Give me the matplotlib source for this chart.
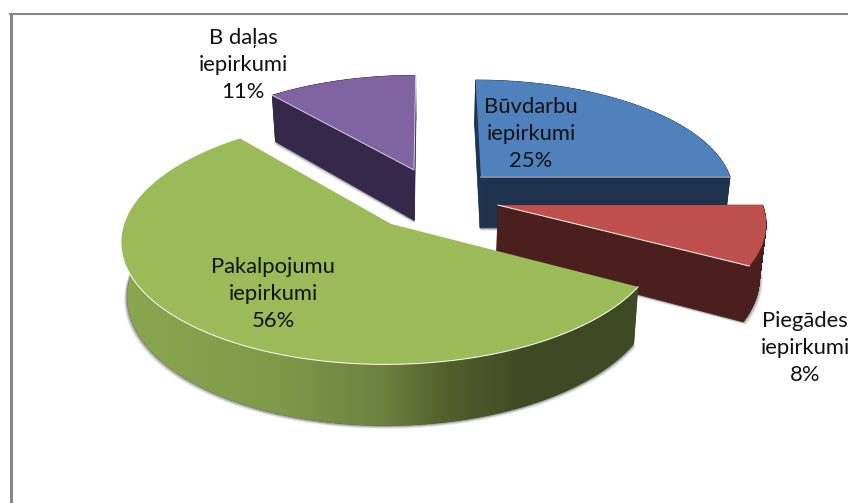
import numpy as np
import matplotlib
matplotlib.use('Agg')
import matplotlib.pyplot as plt
from matplotlib.colors import LinearSegmentedColormap

# chart values, clockwise from the top of the pie
categories = ['Būvdarbu\niepirkumi', 'Piegādes\niepirkumi', 'Pakalpojumu\niepirkumi', 'B daļas\niepirkumi']
shares = [25, 8, 56, 11]
percent_labels = ['25%', '8%', '56%', '11%']

# looks of each slice
top_colors = ['#4f81bd', '#c0504d', '#9bbb59', '#8064a2']
side_colors = ['#1f334e', '#4b1f1e', None, '#35284a']
edge_colors = ['#8a97a8', '#ffffff', '#ffffff', '#d8d0e4']
explode_x = [0.1986, 0.257, -0.144, -0.0628]
explode_y = [0.40, 0.1562, 0.0, 0.4626]
radius = [0.97, 1.0, 0.99, 0.96]
label_xy = [(531, 134), (805, 348), (273, 294), (243, 65)]
draw_order = [3, 0, 1, 2]

# perspective camera, in pixels of the 848x503 picture
X0, Y0 = 430, 224
RX, RY = 270, 123.7
K = 0.129
DEPTH = 53.5
BOTTOM_SHRINK = 0.98


def project(x, y, bottom=False):
    w = 1 + K * y
    px = RX * x / w
    py = Y0 - RY * y / w
    if bottom:
        px = px * BOTTOM_SHRINK
        py = py + DEPTH / w
    return X0 + px, py


def arc(i, start, stop):
    t = np.radians(np.linspace(start, stop, 160))
    return explode_x[i] + radius[i] * np.sin(t), explode_y[i] + radius[i] * np.cos(t)


plt.rcParams['font.family'] = ['Lato', 'DejaVu Sans']
fig = plt.figure(figsize=(8.48, 5.03), dpi=100)
ax = fig.add_axes([0, 0, 1, 1])

# chart border, only left and top are in the crop
ax.plot([10.5, 10.5], [13, 503], color='#868686', lw=2.2, solid_capstyle='butt')
ax.plot([9, 848], [14, 14], color='#868686', lw=1.5, solid_capstyle='butt')

edges = np.cumsum([0] + shares) / sum(shares) * 360
green_side = LinearSegmentedColormap.from_list(
    'green_side', [(0, '#8aa64e'), (0.3, '#7f9a4a'), (0.5, '#6e8240'), (0.63, '#53602d'), (0.78, '#3f4a24'), (1, '#3f4a24')])

for i in draw_order:
    ax_, ay_ = explode_x[i], explode_y[i]
    ux, uy = arc(i, edges[i], edges[i + 1])

    top_x, top_y = project(np.r_[ax_, ux], np.r_[ay_, uy])
    low_x, low_y = project(np.r_[ax_, ux], np.r_[ay_, uy], bottom=True)

    # soft grey shadow under the body of the slice
    for grow, alpha in [(3.0, 0.14), (2.0, 0.24), (1.0, 0.36)]:
        ax.fill(X0 + (low_x - X0) * (1 + grow / 300), low_y + grow, color='#555555', alpha=alpha, lw=0)

    if side_colors[i] is not None:
        # walls are one flat colour, each side quad gets filled
        for k in range(len(top_x)):
            n = (k + 1) % len(top_x)
            ax.fill([top_x[k], top_x[n], low_x[n], low_x[k]], [top_y[k], top_y[n], low_y[n], low_y[k]],
                    color=side_colors[i], lw=0.5)
    else:
        # the big slice has a shaded outer wall, left light to right dark
        ox, oy = project(ux, uy)
        bx, by = project(ux, uy, bottom=True)
        wall = ax.fill(np.r_[ox, bx[::-1]], np.r_[oy, by[::-1]], color='#3f4a24', lw=0)[0]
        ramp = ax.imshow(np.linspace(0, 1, 512)[None, :], cmap=green_side, vmin=0, vmax=1,
                         extent=(121, 638, 440, 230), aspect='auto', zorder=1)
        ramp.set_clip_path(wall)

    ax.fill(top_x, top_y, color=top_colors[i], lw=0)

    # thin light line where the top meets a visible wall
    if i == 0:
        ax.plot(*project(np.array([ax_, ux[-1]]), np.array([ay_, uy[-1]])), color=edge_colors[i], lw=1.2)
    elif i == 1:
        ax.plot(*project(np.array([ax_, ux[-1]]), np.array([ay_, uy[-1]])), color=edge_colors[i], lw=0.7)
    elif i == 2:
        ax.plot(*project(ux, uy), color=edge_colors[i], lw=0.7)
    else:
        ax.plot(*project(np.array([ux[0], ax_, ux[-1]]), np.array([uy[0], ay_, uy[-1]])), color=edge_colors[i], lw=0.7)

for i in range(len(categories)):
    ax.text(label_xy[i][0], label_xy[i][1], categories[i] + '\n' + percent_labels[i], ha='center', va='center',
            fontsize=15.8, color='#111111', linespacing=1.46, zorder=5)

ax.set_xlim(0, 848)
ax.set_ylim(503, 0)
ax.axis('off')

fig.savefig('out.png', dpi=100)
